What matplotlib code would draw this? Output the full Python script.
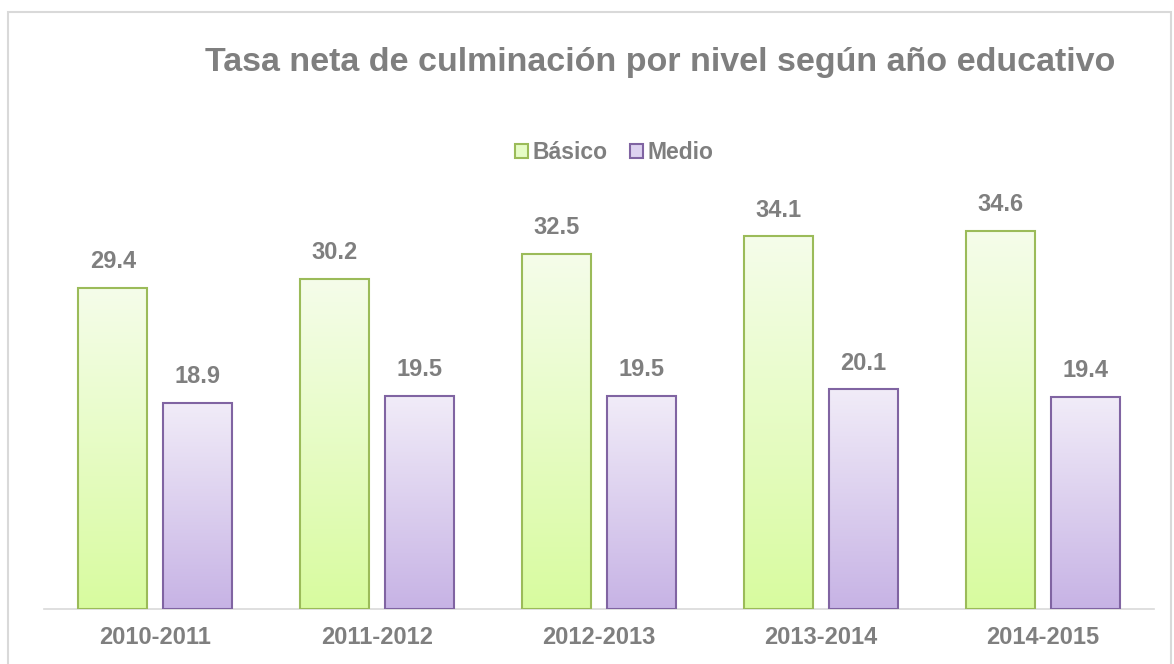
import matplotlib.pyplot as plt
import numpy as np
from matplotlib.colors import LinearSegmentedColormap
from matplotlib.patches import Rectangle

plt.rcParams['font.family'] = ['Liberation Sans', 'DejaVu Sans']

years = ['2010-2011', '2011-2012', '2012-2013', '2013-2014', '2014-2015']
basico = [29.4, 30.2, 32.5, 34.1, 34.6]
medio = [18.9, 19.5, 19.5, 20.1, 19.4]

gray = '#7f7f7f'
green_edge = '#9bbb59'
purple_edge = '#8064a2'
green_cmap = LinearSegmentedColormap.from_list('g', ['#d8fb9f', '#f5fdea'])
purple_cmap = LinearSegmentedColormap.from_list('p', ['#c7b3e5', '#f1ecf8'])

fig = plt.figure(figsize=(11.74, 6.64), dpi=100)
# outer frame
fig.add_artist(Rectangle((8 / 1174, -0.02), 1163 / 1174, 1 - 12 / 664 + 0.02,
                         transform=fig.transFigure, fill=False,
                         edgecolor='#d9d9d9', linewidth=1.5))

ax = fig.add_axes([44 / 1174, (664 - 609) / 664, 1110 / 1174, 437 / 664])
ax.set_xlim(-0.5, len(years) - 0.5)
ax.set_ylim(0, 40)

x = np.arange(len(years))
w = 0.31
off = 0.19
grad = np.linspace(0, 1, 256).reshape(-1, 1)


def gradient_bars(xs, vals, cmap, edge):
    bars = ax.bar(xs, vals, width=w, facecolor='none', edgecolor=edge,
                  linewidth=1.5, zorder=3)
    for b in bars:
        bx, by = b.get_x(), b.get_y()
        bw, bh = b.get_width(), b.get_height()
        im = ax.imshow(grad, cmap=cmap, origin='lower', aspect='auto',
                       extent=[bx, bx + bw, by, by + bh], zorder=2)
        im.set_clip_path(b)
    for xi, v in zip(xs, vals):
        ax.text(xi, v + 2.4, f'{v:.1f}', ha='center', va='center',
                fontsize=17, fontweight='bold', color=gray)
    return bars


gradient_bars(x - off, basico, green_cmap, green_edge)
gradient_bars(x + off, medio, purple_cmap, purple_edge)

for s in ['top', 'right', 'left']:
    ax.spines[s].set_visible(False)
ax.spines['bottom'].set_color('#d9d9d9')
ax.spines['bottom'].set_linewidth(1.2)
ax.set_yticks([])
ax.set_xticks(x)
ax.set_xticklabels(years, fontsize=17, fontweight='bold', color=gray)
ax.tick_params(axis='x', length=0, pad=12)

fig.text(660 / 1174, 1 - 62 / 664,
         'Tasa neta de culminación por nivel según año educativo',
         ha='center', va='center', fontsize=24.5, fontweight='bold', color=gray)

handles = [Rectangle((0, 0), 1, 1, facecolor='#e6fcc6', edgecolor=green_edge, linewidth=1.5),
           Rectangle((0, 0), 1, 1, facecolor='#ddd2f0', edgecolor=purple_edge, linewidth=1.5)]
leg = fig.legend(handles, ['Básico', 'Medio'], loc='center',
                 bbox_to_anchor=(614 / 1174, 1 - 153 / 664), ncol=2,
                 frameon=False, handlelength=0.55, handleheight=0.55,
                 handletextpad=0.2, columnspacing=1.0,
                 prop={'size': 16.5, 'weight': 'bold'})
for t in leg.get_texts():
    t.set_color(gray)

fig.savefig('out.png', dpi=100)
